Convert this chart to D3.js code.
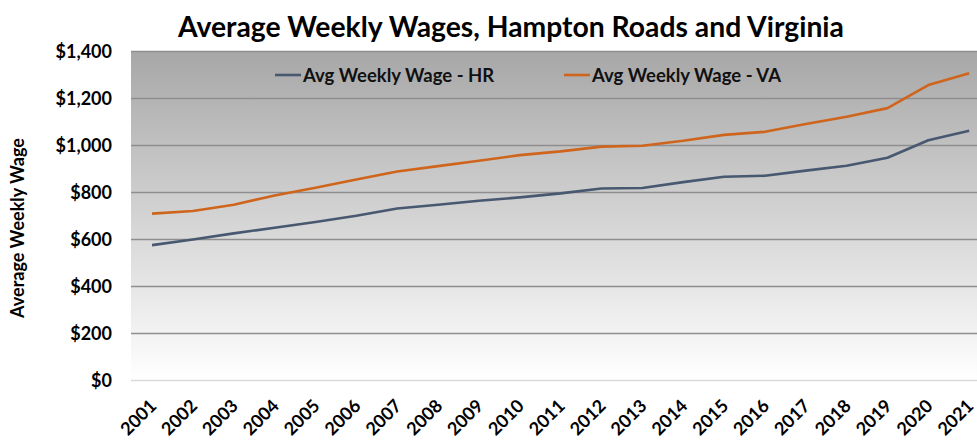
<!DOCTYPE html>
<html>
<head>
<meta charset="utf-8">
<script src="https://cdn.jsdelivr.net/npm/d3@7"></script>
<style>
  body { margin: 0; background: #fff; }
  svg { display: block; font-family: Lato, "Open Sans", sans-serif; }
</style>
</head>
<body>
<div id="chart"></div>
<script>
// data
const years = ["2001","2002","2003","2004","2005","2006","2007","2008","2009","2010","2011",
               "2012","2013","2014","2015","2016","2017","2018","2019","2020","2021"];
const wageHR = [574, 598, 624, 648, 672, 699, 730, 746, 763, 777, 794, 815, 817, 842, 865, 869, 891, 912, 946, 1020, 1061];
const wageVA = [708, 719, 746, 785, 818, 853, 887, 910, 933, 957, 973, 993, 997, 1018, 1043, 1056, 1089, 1120, 1157, 1255, 1305];
const yTicks = [0, 200, 400, 600, 800, 1000, 1200, 1400];
const seriesNames = ["Avg Weekly Wage - HR", "Avg Weekly Wage - VA"];
const colors = ["#475870", "#cf651c"];

const W = 977, H = 441;
const margin = { top: 51, right: 0, bottom: 61, left: 131 };

const svg = d3.select("#chart").append("svg")
    .attr("width", W)
    .attr("height", H);

const x = d3.scalePoint()
    .domain(years)
    .range([margin.left + 0.6, 989.6])
    .padding(0.5);

const y = d3.scaleLinear()
    .domain([0, 1400])
    .range([H - margin.bottom, margin.top]);

// plot area gradient
const grad = svg.append("defs").append("linearGradient")
    .attr("id", "bg").attr("x1", 0).attr("y1", 0).attr("x2", 0).attr("y2", 1);
grad.append("stop").attr("offset", "0%").attr("stop-color", "#a7a7a7");
grad.append("stop").attr("offset", "100%").attr("stop-color", "#ffffff");

svg.append("rect")
    .attr("x", margin.left)
    .attr("y", y(1400))
    .attr("width", W - margin.left)
    .attr("height", y(0) - y(1400))
    .attr("fill", "url(#bg)");

// gridlines
svg.append("g")
    .selectAll("line")
    .data(yTicks)
    .join("line")
    .attr("x1", margin.left)
    .attr("x2", W)
    .attr("y1", d => Math.round(y(d)) + 0.5)
    .attr("y2", d => Math.round(y(d)) + 0.5)
    .attr("stroke", d => d === 0 ? "#d9d9d9" : "#8e8e8e")
    .attr("stroke-width", 1.3);

// y axis labels
const yAxis = svg.append("g")
    .attr("transform", "translate(" + (margin.left - 19) + ",0)")
    .call(d3.axisLeft(y).tickValues(yTicks).tickSize(0).tickFormat(d => "$" + d3.format(",")(d)));
yAxis.select(".domain").remove();
yAxis.selectAll("text")
    .attr("x", 0)
    .attr("dy", "0.35em")
    .style("font-size", "18px")
    .style("font-weight", "bold")
    .style("font-family", "Lato, sans-serif")
    .attr("fill", "#000");

// x axis labels
const xAxis = svg.append("g")
    .attr("transform", "translate(0," + (H - margin.bottom) + ")")
    .call(d3.axisBottom(x).tickSize(0));
xAxis.select(".domain").remove();
xAxis.selectAll("text")
    .style("text-anchor", "end")
    .style("font-size", "18px")
    .style("font-weight", "bold")
    .style("font-family", "Lato, sans-serif")
    .attr("fill", "#000")
    .attr("x", 0)
    .attr("y", 0)
    .attr("dy", 0)
    .attr("transform", "translate(5,27) rotate(-45)");

// lines
const line = d3.line()
    .x((d, i) => x(years[i]))
    .y(d => y(d));

[wageHR, wageVA].forEach((vals, k) => {
    svg.append("path")
        .datum(vals)
        .attr("fill", "none")
        .attr("stroke", colors[k])
        .attr("stroke-width", 2.6)
        .attr("stroke-linejoin", "round")
        .attr("d", line);
});

// legend
const legendX = [275, 564];
seriesNames.forEach((name, k) => {
    const g = svg.append("g").attr("transform", "translate(" + legendX[k] + ",75)");
    g.append("line")
        .attr("x1", 0).attr("x2", 26)
        .attr("y1", 0).attr("y2", 0)
        .attr("stroke", colors[k])
        .attr("stroke-width", 2.6);
    g.append("text")
        .attr("x", 28)
        .attr("dy", "0.36em")
        .style("font-size", "18.5px")
        .style("font-weight", "bold")
        .attr("fill", "#111")
        .text(name);
});

// title
svg.append("text")
    .attr("x", 511)
    .attr("y", 37)
    .attr("text-anchor", "middle")
    .style("font-size", "28.3px")
    .style("font-weight", "bold")
    .attr("fill", "#000")
    .text("Average Weekly Wages, Hampton Roads and Virginia");

// y axis title
svg.append("text")
    .attr("transform", "translate(24,228) rotate(-90)")
    .attr("text-anchor", "middle")
    .style("font-size", "18px")
    .style("font-weight", "bold")
    .attr("fill", "#000")
    .text("Average Weekly Wage");
</script>
</body>
</html>
